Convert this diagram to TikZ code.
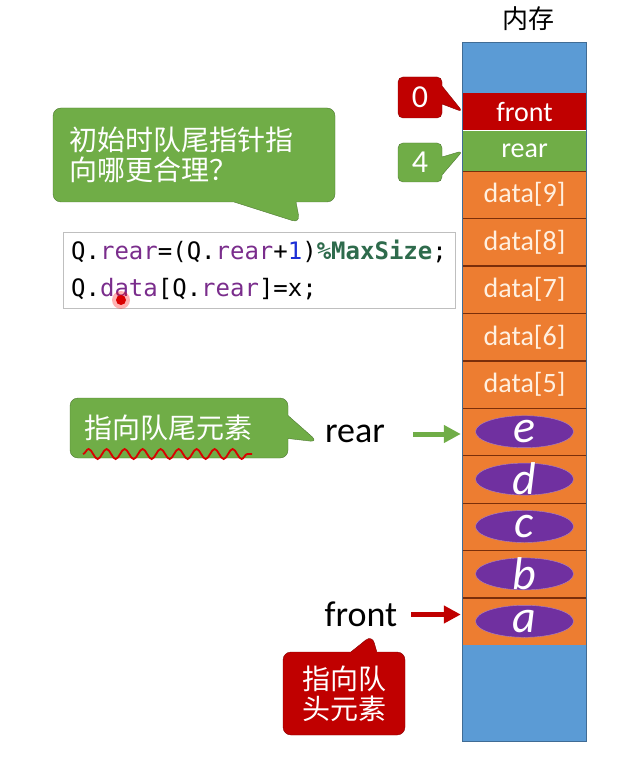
\documentclass[tikz,border=0pt]{standalone}
\usepackage{fontspec}
\setmainfont{Carlito}
\newfontfamily\cjk{Noto Sans CJK SC}
\newfontfamily\codefont{DejaVu Sans Mono}
\usetikzlibrary{positioning, shapes.geometric, shapes.callouts, arrows.meta, decorations.pathmorphing}
\definecolor{memblue}{HTML}{5B9BD5}
\definecolor{memred}{HTML}{C00000}
\definecolor{memgreen}{HTML}{70AD47}
\definecolor{memorange}{HTML}{ED7D31}
\definecolor{elempurple}{HTML}{7030A0}
\definecolor{sepbrown}{HTML}{7A2E0A}
\definecolor{kwpurple}{HTML}{7A2D8C}
\definecolor{numblue}{HTML}{1C2FD6}
\definecolor{modgreen}{HTML}{2E6B4C}
\newcommand{\codekw}[1]{\textcolor{kwpurple}{#1}}
\tikzset{
cell/.style={minimum width=123pt, inner sep=0pt, font=\fontsize{28}{30}\selectfont}, % one row of the memory column
slot/.style={cell, fill=memorange, text=orange!12, minimum height=47pt,
  path picture={\draw[sepbrown, line width=1.5pt] (path picture bounding box.north west) -- (path picture bounding box.north east);}}, % orange data row with its divider
elem/.style={ellipse, fill=elempurple, draw=elempurple!60!white, minimum width=98pt, minimum height=32pt, inner sep=0pt}, % a queue element
letter/.style={inner sep=0pt, text=white, font=\fontsize{46}{46}\itshape}, % the letter inside an element
pointer/.style={inner sep=0pt, font=\fontsize{36}{36}\selectfont}, % front / rear labels
garrow/.style={draw=memgreen, line width=5pt, -{Triangle[length=17pt, width=17pt]}, shorten <=28pt, shorten >=2pt}, % arrow to the tail
rarrow/.style={draw=memred, line width=5pt, -{Triangle[length=17pt, width=17pt]}, shorten <=14pt, shorten >=2pt}, % arrow to the head
gcall/.style={rectangle callout, fill=memgreen, draw=memgreen!70!black, rounded corners=8pt, text=white, callout pointer width=20pt}, % green speech bubble
rcall/.style={rectangle callout, fill=memred, draw=memred!70!black, rounded corners=8pt, text=white, callout pointer width=18pt}, % red speech bubble
cjktext/.style={font=\cjk\fontsize{28}{30}\selectfont}, % chinese text in bubbles
numtext/.style={font=\fontsize{32}{32}\selectfont}, % pointer values
codebox/.style={draw=gray!50, minimum width=392pt, minimum height=76pt, align=left, font=\codefont\fontsize{24}{37}\selectfont}, % the two lines of code
}

\begin{document}
\begin{tikzpicture}[x=1pt, y=-1pt]
        \useasboundingbox (0,0) rectangle (625,775);

        % the memory column
        \node[font=\cjk\fontsize{26}{26}\selectfont] (title) at (528,19) {内存};
        \node[cell, fill=memblue, minimum height=50pt] (top) at (524.5,68) {};
        \node[cell, fill=memred, text=white, minimum height=37pt, below=0pt of top] (front) {front};
        \node[cell, fill=memgreen, text=white, minimum height=40pt, below=0pt of front] (rear) {rear};
        \node[slot, below=0pt of rear] (data9) {data[9]};
        \node[slot, below=0pt of data9] (data8) {data[8]};
        \node[slot, below=0pt of data8] (data7) {data[7]};
        \node[slot, below=0pt of data7] (data6) {data[6]};
        \node[slot, below=0pt of data6] (data5) {data[5]};
        \node[slot, below=0pt of data5] (data4) {};
        \node[slot, below=0pt of data4] (data3) {};
        \node[slot, below=0pt of data3] (data2) {};
        \node[slot, below=0pt of data2] (data1) {};
        \node[slot, below=0pt of data1] (data0) {};
        \node[cell, fill=memblue, minimum height=96pt, below=0pt of data0] (bottom) {};
        \draw[memblue!70!black, line width=1pt] (top.north west) rectangle (bottom.south east);

        % queued elements
        \node[elem, label={[letter]center:e}] (ee) at (data4) {};
        \node[elem, label={[letter]center:d}] (ed) at (data3) {};
        \node[elem, label={[letter]center:c}] (ec) at (data2) {};
        \node[elem, label={[letter]center:b}] (eb) at (data1) {};
        \node[elem, label={[letter]center:a}] (ea) at (data0) {};

        % values of front and rear
        \node[rcall, numtext, minimum width=44pt, minimum height=41pt, rounded corners=5pt,
              callout absolute pointer={(front.west)}] (zero) at (420,97.5) {0};
        \node[gcall, numtext, minimum width=44pt, minimum height=39pt, rounded corners=5pt,
              callout pointer width=18pt, callout absolute pointer={(rear.west)}] (four) at (420,162.5) {4};

        % question and code
        \node[gcall, cjktext, minimum width=282pt, minimum height=94pt, text width=250pt, align=left,
              callout pointer width=62pt, callout absolute pointer={(300,223)}] (ask) at (194,155) {初始时队尾指针指\\向哪更合理？};
        \node[codebox] (code) at (259,270)
              {Q.\codekw{rear}=(Q.\codekw{rear}+\textcolor{numblue}{1})\textcolor{modgreen}{\bfseries\%MaxSize};\\
               Q.\codekw{data}[Q.\codekw{rear}]=x;};
        \fill[red, opacity=.3] (121,300) circle (9pt);
        \fill[red!85!black] (121,300) circle (5pt);

        % rear and front pointers
        \node[pointer] (rearlbl) at (355,434) {rear};
        \node[pointer] (frontlbl) at (361,614.5) {front};
        \draw[garrow] (rearlbl.east) -- (rearlbl.east -| data4.west);
        \draw[rarrow] (frontlbl.east) -- (frontlbl.east -| data0.west);

        \node[gcall, cjktext, minimum width=218pt, minimum height=60pt, text width=190pt, align=left, callout pointer width=23pt,
              callout absolute pointer={(318,442)}] (tailnote) at (179,428) {指向队尾元素};
        \draw[red!85!black, line width=1.8pt, decorate, decoration={snake, amplitude=5pt, segment length=18pt}]
              (83,454) -- (252,454);
        \node[rcall, cjktext, minimum width=122pt, minimum height=83pt, align=center, callout pointer width=26pt,
              callout absolute pointer={(372,635)}] (headnote) at (344,693.5) {指向队\\头元素};
      \end{tikzpicture}
\end{document}
